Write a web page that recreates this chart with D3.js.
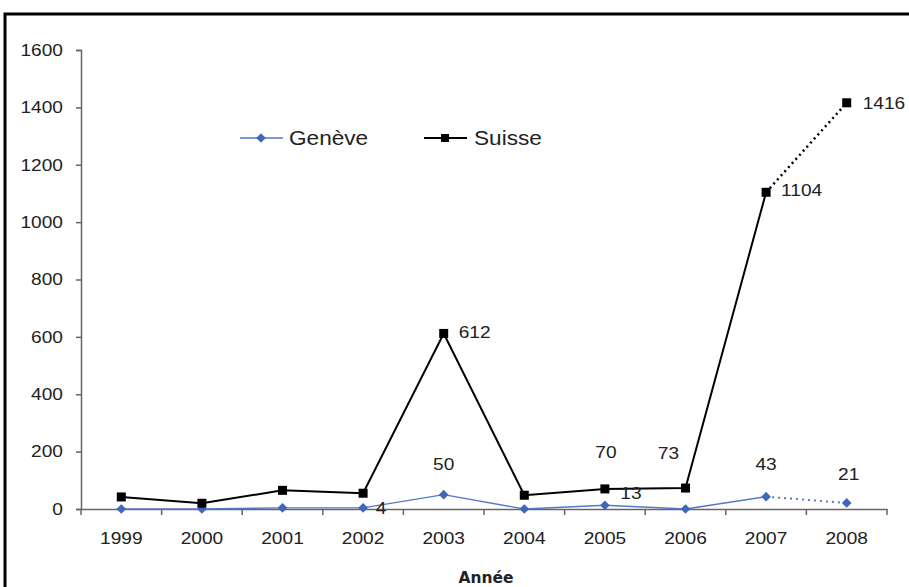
<!DOCTYPE html>
<html><head><meta charset="utf-8">
<script src="https://cdn.jsdelivr.net/npm/d3@7"></script>
<style>body{margin:0;background:#fff}svg{display:block}text{font-family:"Liberation Sans",Arial,sans-serif}</style>
</head><body><svg id="c" width="909" height="587"></svg>
<script>
const years = ["1999","2000","2001","2002","2003","2004","2005","2006","2007","2008"];
const geneve = [0,0,4,4,50,0,13,0,43,21];
const suisse = [42,20,65,55,612,48,70,73,1104,1416];
const yTicks = [0,200,400,600,800,1000,1200,1400,1600];
const labelsText = [
  ["geneve",3,"4"],["geneve",4,"50"],["geneve",6,"13"],["geneve",8,"43"],["geneve",9,"21"],
  ["suisse",4,"612"],["suisse",6,"70"],["suisse",7,"73"],["suisse",8,"1104"],["suisse",9,"1416"]
];
const labelOffsets = {
  "geneve3":[18,0,"middle"],"geneve4":[0,-30,"middle"],"geneve6":[26,-12,"middle"],"geneve8":[0,-32,"middle"],"geneve9":[2,-29,"middle"],
  "suisse4":[15,-1,"start"],"suisse6":[1,-37,"middle"],"suisse7":[-17,-35,"middle"],"suisse8":[15,-2,"start"],"suisse9":[16,0,"start"]
};
const SX = 1.16;
function stretch(sel){
  sel.each(function(){
    const t = d3.select(this);
    const x = +t.attr("x")||0, y = +t.attr("y")||0;
    t.attr("x",0).attr("y",0).attr("transform",`translate(${x},${y}) scale(${SX},1)`);
  });
}

const svg = d3.select("#c");
svg.append("rect").attr("x",5).attr("y",14).attr("width",1000).attr("height",700)
  .attr("fill","none").attr("stroke","#000").attr("stroke-width",3);

const x = d3.scaleBand().domain(years).range([81,887]);
const y = d3.scaleLinear().domain([0,1600]).range([509,50]);
const axisColor = "#6b6363";

const gy = svg.append("g").attr("transform","translate(81,0)")
  .call(d3.axisLeft(y).tickValues(yTicks).tickFormat(d3.format("d")).tickSize(5).tickPadding(13));
const gx = svg.append("g").attr("transform","translate(0,509)")
  .call(d3.axisBottom(x).tickSize(0).tickPadding(29));
gx.selectAll(".tick line").remove();
svg.append("g").selectAll("line").data(d3.range(years.length+1)).join("line")
  .attr("x1",i=>81+i*x.step()).attr("x2",i=>81+i*x.step())
  .attr("y1",509).attr("y2",515).attr("stroke",axisColor).attr("stroke-width",1.5);
[gx,gy].forEach(g=>{
  g.select(".domain").attr("stroke",axisColor).attr("stroke-width",1.5);
  g.selectAll(".tick line").attr("stroke",axisColor).attr("stroke-width",1.5);
  g.selectAll("text").attr("fill","#222").style("font-size","16.5px").style("font-family","'Liberation Sans',Arial,sans-serif");
  stretch(g.selectAll("text"));
});
gx.selectAll("text").attr("dy","0.35em");

const cx = i => x(years[i]) + x.bandwidth()/2;
const gColor = "#3f68bd";
function drawSeries(vals, color, width, dash){
  const solid = d3.line().x((d,i)=>cx(i)).y(d=>y(d));
  svg.append("path").attr("d",solid(vals.slice(0,9))).attr("fill","none").attr("stroke",color).attr("stroke-width",width);
  svg.append("path").attr("d",d3.line()([[cx(8),y(vals[8])],[cx(9),y(vals[9])]]))
    .attr("fill","none").attr("stroke",color).attr("stroke-width",width+0.5).attr("stroke-dasharray",dash);
}
drawSeries(geneve, "#5577c8", 1.4, "2,4");
drawSeries(suisse, "#000", 2, "2,3.5");

const diamond = d3.symbol(d3.symbolDiamond2 || d3.symbolDiamond, 60);
svg.append("g").selectAll("path").data(geneve).join("path")
  .attr("transform",(d,i)=>`translate(${cx(i)},${y(d)})`)
  .attr("d",diamond).attr("fill",gColor);
svg.append("g").selectAll("rect").data(suisse).join("rect")
  .attr("x",(d,i)=>cx(i)-4.5).attr("y",d=>y(d)-4.5).attr("width",9).attr("height",9).attr("fill","#000");

const series = {geneve, suisse};
const lbl = svg.append("g").selectAll("text").data(labelsText).join("text")
  .attr("x",d=>cx(d[1])+labelOffsets[d[0]+d[1]][0])
  .attr("y",d=>y(series[d[0]][d[1]])+labelOffsets[d[0]+d[1]][1])
  .attr("dy","0.35em").attr("text-anchor",d=>labelOffsets[d[0]+d[1]][2])
  .attr("fill","#222").style("font-size","16.5px").text(d=>d[2]);
stretch(lbl);

const lg = svg.append("g");
lg.append("line").attr("x1",240).attr("x2",283).attr("y1",138).attr("y2",138).attr("stroke","#5577c8").attr("stroke-width",1.4);
lg.append("path").attr("transform","translate(261,138)").attr("d",diamond).attr("fill",gColor);
lg.append("line").attr("x1",424).attr("x2",467).attr("y1",138).attr("y2",138).attr("stroke","#000").attr("stroke-width",2);
lg.append("rect").attr("x",441).attr("y",134).attr("width",8).attr("height",8).attr("fill","#000");
const lt = lg.selectAll("text.l").data([["Genève",289],["Suisse",474]]).join("text")
  .attr("x",d=>d[1]).attr("y",138).attr("dy","0.35em").style("font-size","19.5px").attr("fill","#222").text(d=>d[0]);
stretch(lt);

svg.append("text").attr("x",486).attr("y",578).attr("dy","0.35em").attr("text-anchor","middle")
  .style("font-size","15.5px").style("font-weight","bold").style("font-family","'DejaVu Sans',Verdana,sans-serif").attr("fill","#222").text("Année");
</script></body></html>
